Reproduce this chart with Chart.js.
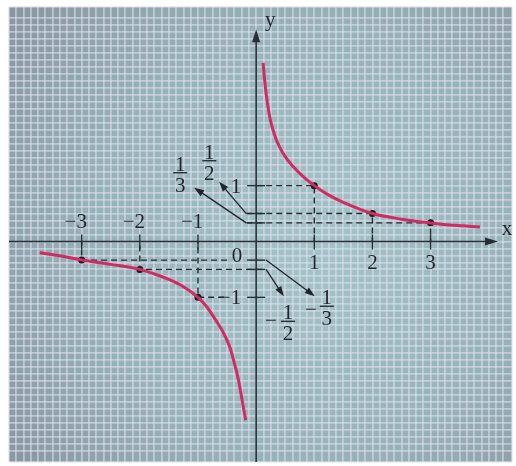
<!DOCTYPE html>
<html>
<head>
<meta charset="utf-8">
<script src="https://cdn.jsdelivr.net/npm/chart.js@4/dist/chart.umd.min.js"></script>
<style>
  html, body { margin: 0; padding: 0; background: #fff; }
  canvas { display: block; }
</style>
</head>
<body>
<canvas id="myChart" width="516" height="466"></canvas>
<script>
// y = 1/x, two branches
const rightX = [0.12, 0.15, 0.19, 0.25, 0.32, 0.4, 0.5, 0.62, 0.8, 1, 1.25, 1.5, 2, 2.5, 3, 3.4, 3.85];
const rightY = [3.2, 2.85, 2.5, 2.15, 1.9, 1.7, 1.52, 1.36, 1.17, 1, 0.83, 0.7, 0.5, 0.4, 0.333, 0.29, 0.26];
const leftX = [-3.72, -3.3, -3, -2.5, -2, -1.7, -1.5, -1.25, -1, -0.85, -0.7, -0.57, -0.45, -0.37, -0.3, -0.24, -0.18];
const leftY = [-0.2, -0.27, -0.333, -0.41, -0.5, -0.6, -0.68, -0.81, -1, -1.17, -1.4, -1.62, -1.9, -2.2, -2.5, -2.85, -3.2];

// marked points
const markX = [-3, -2, -1, 1, 2, 3];
const markY = [-1 / 3, -1 / 2, -1, 1, 1 / 2, 1 / 3];

// tick labels
const xTickValues = [-3, -2, -1, 1, 2, 3];
const xTickLabels = ['−3', '−2', '−1', '1', '2', '3'];
const yTickValues = [1, -1];
const yTickLabels = ['1', '−1'];

const INK = '#1f252b';
const FONT = '"Liberation Serif", "Times New Roman", serif';

const toXY = (xs, ys) => xs.map((v, i) => ({ x: v, y: ys[i] }));

// dashed guide lines from each marked point back to the axes
function guideLines() {
  const sets = [];
  markX.forEach((mx, i) => {
    const my = markY[i];
    let hx;
    if (my > 0) hx = my === 1 ? 0 : -0.17;
    else if (my === -1) hx = -0.55;
    else if (my === -0.5) hx = 0.1;
    else hx = -0.5;
    sets.push([{ x: hx, y: my }, { x: mx, y: my }, { x: mx, y: 0 }]);
  });
  return sets.map(d => ({
    data: d,
    showLine: true,
    borderColor: '#23282e',
    borderWidth: 1.4,
    borderDash: [6, 4],
    pointRadius: 0,
    tension: 0
  }));
}

function arrow(ctx, x1, y1, x2, y2, len, half) {
  const a = Math.atan2(y2 - y1, x2 - x1);
  ctx.beginPath();
  ctx.moveTo(x1, y1);
  ctx.lineTo(x2 - Math.cos(a) * len * 0.8, y2 - Math.sin(a) * len * 0.8);
  ctx.stroke();
  ctx.beginPath();
  ctx.moveTo(x2, y2);
  ctx.lineTo(x2 - Math.cos(a) * len + Math.sin(a) * half, y2 - Math.sin(a) * len - Math.cos(a) * half);
  ctx.lineTo(x2 - Math.cos(a) * len - Math.sin(a) * half, y2 - Math.sin(a) * len + Math.cos(a) * half);
  ctx.closePath();
  ctx.fill();
}

// text centred on the digit height
function txt(ctx, s, x, cy, align) {
  ctx.textAlign = align || 'center';
  ctx.fillText(s, x, cy + 7);
}

function frac(ctx, num, den, cx, barY) {
  txt(ctx, num, cx, barY - 9);
  txt(ctx, den, cx, barY + 12);
  ctx.beginPath();
  ctx.moveTo(cx - 7, barY);
  ctx.lineTo(cx + 7, barY);
  ctx.stroke();
}

const paper = {
  id: 'paper',
  beforeDraw(chart) {
    const { ctx, chartArea: a } = chart;
    const g = ctx.createRadialGradient(320, 250, 20, 300, 240, 380);
    g.addColorStop(0, '#a2c3c5');
    g.addColorStop(0.55, '#96b3b7');
    g.addColorStop(1, '#87949e');
    ctx.save();
    ctx.fillStyle = g;
    ctx.fillRect(a.left, a.top, a.right - a.left, a.bottom - a.top);
    ctx.restore();
  }
};

const axes = {
  id: 'axes',
  beforeDatasetsDraw(chart) {
    const { ctx, chartArea: a, scales: { x, y } } = chart;
    const ox = x.getPixelForValue(0), oy = y.getPixelForValue(0);
    const xEnd = x.getPixelForValue(4.16), yEnd = y.getPixelForValue(3.8);
    ctx.save();
    ctx.strokeStyle = '#262d35';
    ctx.fillStyle = '#262d35';
    ctx.lineWidth = 1.6;
    arrow(ctx, a.left, oy, xEnd, oy, 13, 4);
    arrow(ctx, ox, a.bottom, ox, yEnd, 13, 4);
    // tick marks
    ctx.lineWidth = 1.4;
    xTickValues.forEach(v => {
      const px = x.getPixelForValue(v);
      ctx.beginPath();
      ctx.moveTo(px, oy - 7);
      ctx.lineTo(px, oy + 8);
      ctx.stroke();
    });
    markY.forEach(v => {
      const py = y.getPixelForValue(v);
      ctx.beginPath();
      ctx.moveTo(ox - 9, py);
      ctx.lineTo(ox + 9, py);
      ctx.stroke();
    });
    ctx.restore();
  },
  afterDatasetsDraw(chart) {
    const { ctx, scales: { x, y } } = chart;
    const ox = x.getPixelForValue(0), oy = y.getPixelForValue(0);
    const xEnd = x.getPixelForValue(4.16), yEnd = y.getPixelForValue(3.8);
    const P = (vx, vy) => [x.getPixelForValue(vx), y.getPixelForValue(vy)];
    ctx.save();
    ctx.fillStyle = INK;
    ctx.strokeStyle = INK;
    ctx.font = '21px ' + FONT;

    xTickValues.forEach((v, i) => {
      const px = x.getPixelForValue(v);
      if (v < 0) {
        const w = ctx.measureText('3').width;
        txt(ctx, xTickLabels[i], px + w / 2, oy - 20, 'right');
      } else {
        txt(ctx, xTickLabels[i], px, oy + 21);
      }
    });
    yTickValues.forEach((v, i) => {
      txt(ctx, yTickLabels[i], ox - 15, y.getPixelForValue(v), 'right');
    });
    txt(ctx, '0', ox - 14, oy + 14, 'right');

    txt(ctx, 'x', xEnd + 9, oy - 13);
    txt(ctx, 'y', ox + 14, yEnd - 10);

    // fraction callouts
    ctx.lineWidth = 1.3;
    let s, t;
    s = P(-0.17, 1 / 3); t = P(-1.065, 0.964);
    arrow(ctx, s[0], s[1], t[0], t[1], 10, 3.5);
    s = P(-0.17, 1 / 2); t = P(-0.637, 1.07);
    arrow(ctx, s[0], s[1], t[0], t[1], 10, 3.5);
    s = P(0.17, -1 / 3); t = P(1.01, -0.98);
    arrow(ctx, s[0], s[1], t[0], t[1], 10, 3.5);
    s = P(0.17, -1 / 2); t = P(0.476, -0.98);
    arrow(ctx, s[0], s[1], t[0], t[1], 10, 3.5);

    let c = P(-1.305, 1.232);
    frac(ctx, '1', '3', c[0], c[1]);
    c = P(-0.805, 1.446);
    frac(ctx, '1', '2', c[0], c[1]);
    c = P(0.548, -1.43);
    frac(ctx, '1', '2', c[0], c[1]);
    txt(ctx, '−', c[0] - 17, c[1] - 1);
    c = P(1.216, -1.16);
    frac(ctx, '1', '3', c[0], c[1]);
    txt(ctx, '−', c[0] - 16, c[1] + 3);
    ctx.restore();
  }
};

const gridStyle = { color: 'rgba(224, 222, 240, 0.6)', lineWidth: 1.8, drawTicks: false };

const ctx = document.getElementById('myChart').getContext('2d');
const myChart = new Chart(ctx, {
  type: 'scatter',
  data: {
    datasets: [
      {
        data: toXY(rightX, rightY),
        showLine: true,
        borderColor: '#d02b62',
        borderWidth: 3,
        pointRadius: 0,
        cubicInterpolationMode: 'monotone'
      },
      {
        data: toXY(leftX, leftY),
        showLine: true,
        borderColor: '#d02b62',
        borderWidth: 3,
        pointRadius: 0,
        cubicInterpolationMode: 'monotone'
      },
      ...guideLines(),
      {
        data: toXY(markX, markY),
        showLine: false,
        pointRadius: 3.5,
        pointBackgroundColor: '#15181c',
        pointBorderColor: '#15181c',
        pointBorderWidth: 0
      }
    ]
  },
  options: {
    responsive: false,
    animation: false,
    layout: { padding: { left: 9, top: 7, right: 2, bottom: 3 } },
    plugins: { legend: { display: false }, tooltip: { enabled: false } },
    scales: {
      x: {
        type: 'linear',
        min: -4.25,
        max: 4.4,
        border: { display: false },
        ticks: { display: false, stepSize: 0.125 },
        grid: gridStyle
      },
      y: {
        type: 'linear',
        min: -3.95,
        max: 4.2,
        border: { display: false },
        ticks: { display: false, stepSize: 0.125 },
        grid: gridStyle
      }
    }
  },
  plugins: [paper, axes]
});
</script>
</body>
</html>
